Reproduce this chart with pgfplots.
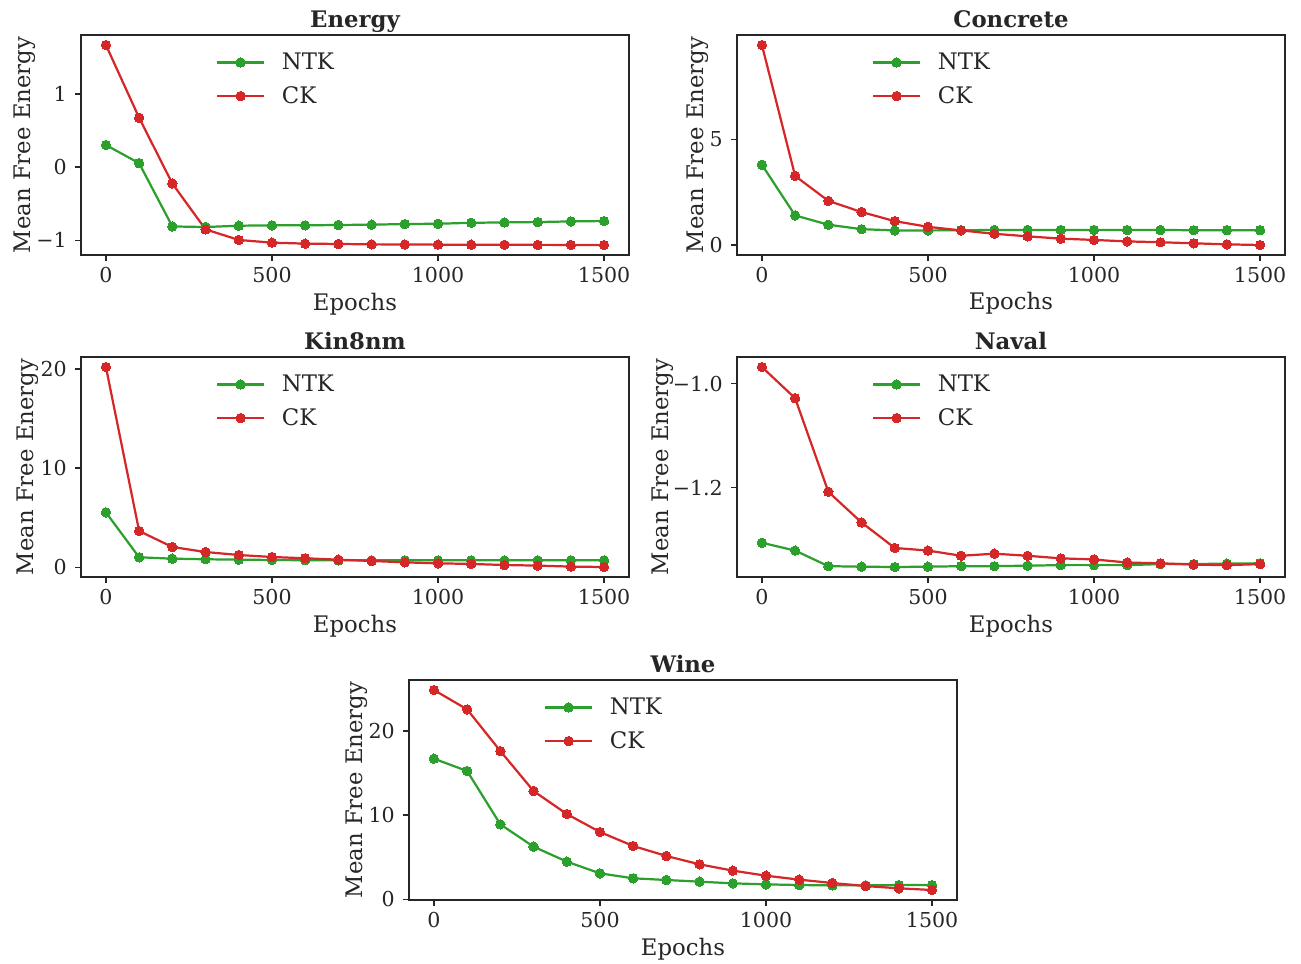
\documentclass[border=0pt]{standalone}
\usepackage{fontspec}
\setmainfont{DejaVu Serif}
\usepackage{pgfplots}
\usepackage{pgfplotstable}
\pgfplotsset{compat=1.18}

\definecolor{ntkgreen}{HTML}{2CA02C}
\definecolor{ckred}{HTML}{D62728}
\definecolor{spine}{HTML}{262626}

% Mean free energy per training epoch, NTK vs CK, for each data set
\pgfplotstableread{
epoch ntk ck
0     0.305  1.673
100   0.055  0.677
200  -0.810 -0.223
300  -0.818 -0.850
400  -0.800 -0.995
500  -0.795 -1.032
600  -0.795 -1.045
700  -0.790 -1.050
800  -0.786 -1.055
900  -0.777 -1.057
1000 -0.773 -1.059
1100 -0.760 -1.060
1200 -0.755 -1.061
1300 -0.750 -1.062
1400 -0.741 -1.063
1500 -0.736 -1.064
}\energy

\pgfplotstableread{
epoch ntk ck
0    3.80 9.47
100  1.40 3.27
200  0.96 2.09
300  0.75 1.56
400  0.69 1.13
500  0.69 0.86
600  0.70 0.69
700  0.71 0.53
800  0.71 0.41
900  0.71 0.30
1000 0.71 0.24
1100 0.71 0.17
1200 0.71 0.13
1300 0.70 0.08
1400 0.70 0.03
1500 0.70 0.00
}\concrete

\pgfplotstableread{
epoch ntk ck
0    5.54 20.20
100  1.01 3.66
200  0.87 2.05
300  0.81 1.54
400  0.77 1.24
500  0.74 1.04
600  0.71 0.91
700  0.70 0.77
800  0.70 0.64
900  0.70 0.50
1000 0.70 0.40
1100 0.70 0.34
1200 0.70 0.23
1300 0.70 0.17
1400 0.70 0.07
1500 0.70 0.03
}\kineight

\pgfplotstableread{
epoch ntk ck
0    -1.3060 -0.9680
100  -1.3210 -1.0280
200  -1.3510 -1.2080
300  -1.3520 -1.2670
400  -1.3526 -1.3160
500  -1.3520 -1.3210
600  -1.3510 -1.3310
700  -1.3510 -1.3270
800  -1.3500 -1.3310
900  -1.3490 -1.3360
1000 -1.3490 -1.3380
1100 -1.3490 -1.3440
1200 -1.3470 -1.3455
1300 -1.3470 -1.3480
1400 -1.3460 -1.3490
1500 -1.3455 -1.3470
}\naval

\pgfplotstableread{
epoch ntk ck
0    16.71 24.87
100  15.25 22.57
200   8.91 17.62
300   6.26 12.87
400   4.48 10.14
500   3.09  8.00
600   2.50  6.34
700   2.30  5.15
800   2.10  4.16
900   1.90  3.41
1000  1.78  2.81
1100  1.70  2.34
1200  1.66  1.94
1300  1.66  1.58
1400  1.70  1.31
1500  1.70  1.11
}\wine

\newcommand\labelfont{\fontsize{16.4}{19.5}\selectfont}
\newcommand\tickfont{\fontsize{14.8}{17.5}\selectfont}

\pgfplotsset{
  panel/.style={
    scale only axis,
    width=394.56pt, height=158.4pt,
    anchor=north west,
    xmin=-75, xmax=1575,
    enlarge y limits=0.05,
    axis line style={spine, line width=1.1pt},
    every tick/.style={spine, line width=1.1pt},
    tick align=outside,
    major tick length=4.1pt,
    xtick pos=bottom, ytick pos=left,
    xtick={0,500,1000,1500},
    xticklabels={0,500,1000,1500},
    ticklabel style={font=\tickfont, text=spine},
    xticklabel style={anchor=base, yshift=-15.8pt},
    yticklabel style={anchor=east, inner sep=0pt, xshift=-6pt},
    xlabel={Epochs},
    ylabel={Mean Free Energy},
    label style={font=\labelfont, text=spine},
    xlabel style={at={(rel axis cs:0.5,0)}, anchor=base, yshift=-39.6pt},
    ylabel style={at={(rel axis cs:0,0.5)}, rotate=0, anchor=base, yshift=#1},
    title style={font=\labelfont\bfseries, text=spine,
      at={(rel axis cs:0.5,1)}, anchor=base, yshift=-0.5pt},
    legend style={draw=none, fill=none, at={(rel axis cs:0,1)}, anchor=north west,
      xshift=97pt, yshift=-12.8pt, inner sep=0pt,
      row sep=10.7pt, column sep=12pt,
      nodes={inner sep=0pt, font=\labelfont, text=spine}},
    legend cell align=left,
    legend image code/.code={%
      \draw[##1, mark repeat=2, mark phase=2]
        plot coordinates {(0pt,0pt) (16.9pt,0pt) (33.8pt,0pt)};},
  },
  ntk/.style={ntkgreen, line width=1.6pt, mark=*, mark size=3.4pt,
    mark options={fill=ntkgreen, draw=ntkgreen, line width=0pt}},
  ck/.style={ckred, line width=1.6pt, mark=*, mark size=3.4pt,
    mark options={fill=ckred, draw=ckred, line width=0pt}},
}

\begin{document}
\begin{tikzpicture}
\useasboundingbox (0,0) rectangle (936.72pt,-693.36pt);

\begin{axis}[panel=36.6pt, at={(58.32pt,-25.2pt)}, title={Energy},
  ytick={-1,0,1}, yticklabels={−1,0,1}]
  \addplot[ntk] table[x=epoch, y=ntk] {\energy};
  \addplot[ck]  table[x=epoch, y=ck]  {\energy};
  \legend{NTK, CK}
\end{axis}

\begin{axis}[panel=23.8pt, at={(530.64pt,-25.2pt)}, title={Concrete},
  ytick={0,5}, yticklabels={0,5}]
  \addplot[ntk] table[x=epoch, y=ntk] {\concrete};
  \addplot[ck]  table[x=epoch, y=ck]  {\concrete};
  \legend{NTK, CK}
\end{axis}

\begin{axis}[panel=34pt, at={(58.32pt,-257.04pt)}, title={Kin8nm},
  ytick={0,10,20}, yticklabels={0,10,20}]
  \addplot[ntk] table[x=epoch, y=ntk] {\kineight};
  \addplot[ck]  table[x=epoch, y=ck]  {\kineight};
  \legend{NTK, CK}
\end{axis}

\begin{axis}[panel=49.2pt, at={(530.64pt,-257.04pt)}, title={Naval},
  ytick={-1.2,-1.0}, yticklabels={−1.2,−1.0}]
  \addplot[ntk] table[x=epoch, y=ntk] {\naval};
  \addplot[ck]  table[x=epoch, y=ck]  {\naval};
  \legend{NTK, CK}
\end{axis}

\begin{axis}[panel=33.5pt, at={(294.48pt,-489.6pt)}, title={Wine},
  ytick={0,10,20}, yticklabels={0,10,20}]
  \addplot[ntk] table[x=epoch, y=ntk] {\wine};
  \addplot[ck]  table[x=epoch, y=ck]  {\wine};
  \legend{NTK, CK}
\end{axis}
\end{tikzpicture}
\end{document}
